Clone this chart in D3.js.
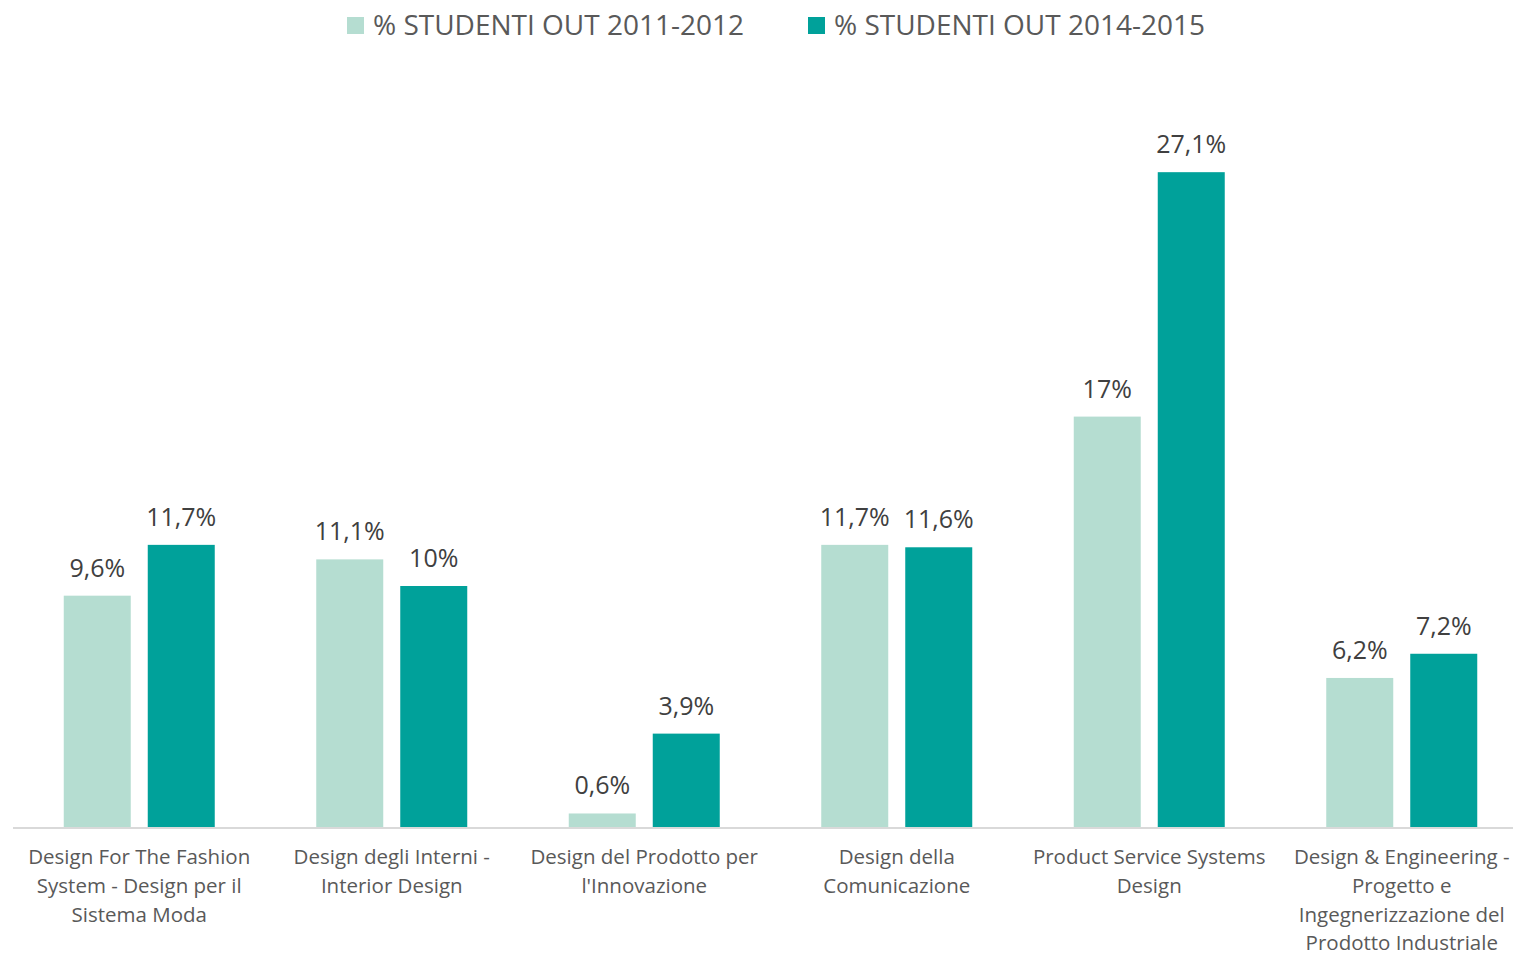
<!DOCTYPE html>
<html>
<head>
<meta charset="utf-8">
<script src="https://cdn.jsdelivr.net/npm/d3@7"></script>
<style>
  body { margin: 0; background: #fff; }
  svg { display: block; font-family: 'Open Sans', Lato, sans-serif; }
</style>
</head>
<body>
<div id="chart"></div>
<script>
// category labels, line breaks as in the original
const categories = [
  'Design For The Fashion\nSystem - Design per il\nSistema Moda',
  'Design degli Interni -\nInterior Design',
  'Design del Prodotto per\nl\'Innovazione',
  'Design della\nComunicazione',
  'Product Service Systems\nDesign',
  'Design & Engineering -\nProgetto e\nIngegnerizzazione del\nProdotto Industriale'
];
const seriesNames = ['% STUDENTI OUT 2011-2012', '% STUDENTI OUT 2014-2015'];
const values2011 = [9.6, 11.1, 0.6, 11.7, 17, 6.2];
const values2014 = [11.7, 10, 3.9, 11.6, 27.1, 7.2];
const colors = ['#b5ddd1', '#00a19a'];

const width = 1513;
const height = 956;

const rows = categories.map((c, i) => ({ cat: c, vals: [values2011[i], values2014[i]] }));

const svg = d3.select('#chart')
  .append('svg')
  .attr('width', width)
  .attr('height', height);

const x0 = d3.scaleBand().domain(categories).range([13, 1528]).padding(0);
const x1 = d3.scaleBand().domain([0, 1]).range([50.75, 201.75]).paddingInner(17 / 84).paddingOuter(0);
const y = d3.scaleLinear().domain([0, 30]).range([828, 102]);

const fmt = (v) => String(v).replace('.', ',') + '%';

const groups = svg.append('g').selectAll('g')
  .data(rows)
  .join('g')
  .attr('transform', (d) => `translate(${x0(d.cat)},0)`);

groups.selectAll('rect')
  .data((d) => d.vals.map((v, k) => ({ v, k })))
  .join('rect')
  .attr('x', (d) => x1(d.k))
  .attr('y', (d) => y(d.v))
  .attr('width', x1.bandwidth())
  .attr('height', (d) => y(0) - y(d.v))
  .attr('fill', (d) => colors[d.k]);

groups.selectAll('text.val')
  .data((d) => d.vals.map((v, k) => ({ v, k })))
  .join('text')
  .attr('class', 'val')
  .attr('x', (d) => x1(d.k) + x1.bandwidth() / 2)
  .attr('y', (d) => y(d.v) - 19)
  .attr('text-anchor', 'middle')
  .attr('font-size', 25)
  .attr('fill', '#404040')
  .text((d) => fmt(d.v));

// baseline axis
const xAxis = d3.axisBottom(x0).tickSize(0).tickFormat('');
const ax = svg.append('g').attr('transform', `translate(0,${y(0)})`).call(xAxis);
ax.select('.domain').attr('stroke', '#d9d9d9').attr('stroke-width', 2)
  .attr('d', `M13,0H${width}`);

// category labels
const labels = svg.append('g').selectAll('text')
  .data(categories)
  .join('text')
  .attr('x', (d) => x0(d) + x0.bandwidth() / 2)
  .attr('y', 864)
  .attr('text-anchor', 'middle')
  .attr('font-size', 20.5)
  .attr('fill', '#595959');

labels.selectAll('tspan')
  .data((d) => d.split('\n'))
  .join('tspan')
  .attr('x', function () { return this.parentNode.getAttribute('x'); })
  .attr('dy', (d, i) => (i === 0 ? 0 : 28.8))
  .text((d) => d);

// legend
const legendX = [347, 808];
const legend = svg.append('g').selectAll('g')
  .data(seriesNames)
  .join('g')
  .attr('transform', (d, i) => `translate(${legendX[i]},0)`);

legend.append('rect')
  .attr('x', 0).attr('y', 17)
  .attr('width', 17).attr('height', 17)
  .attr('fill', (d, i) => colors[i]);

legend.append('text')
  .attr('x', 26).attr('y', 35)
  .attr('font-size', 28)
  .attr('fill', '#595959')
  .text((d) => d);
</script>
</body>
</html>
